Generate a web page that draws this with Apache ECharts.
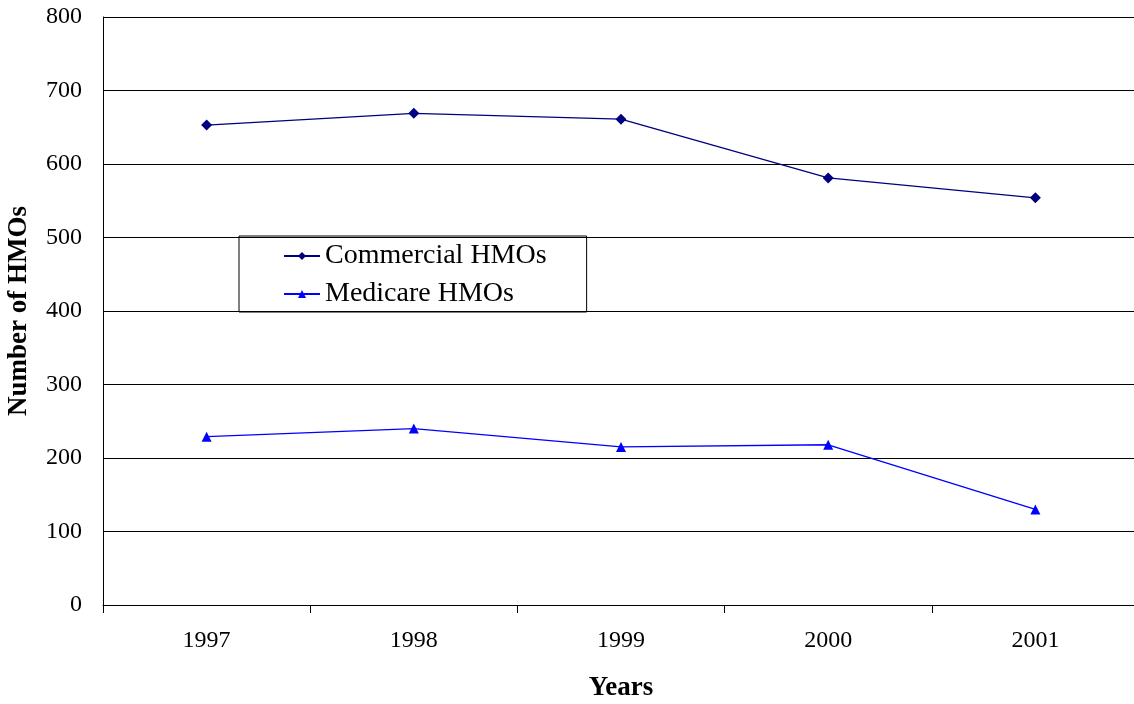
<!DOCTYPE html>
<html>
<head>
<meta charset="utf-8">
<script src="https://cdn.jsdelivr.net/npm/echarts@6/dist/echarts.min.js"></script>
<style>
  html, body { margin: 0; padding: 0; background: #fff; }
  #main { width: 1134px; height: 704px; }
</style>
</head>
<body>
<div id="main"></div>
<script>
var years = ['1997', '1998', '1999', '2000', '2001'];
var commercial = [653, 669, 661, 581, 554];
var medicare = [229, 240, 215, 218, 130];
var yTicks = [0, 800, 100];

var chart = echarts.init(document.getElementById('main'));
var font = '"Liberation Serif", "Times New Roman", serif';

var option = {
    backgroundColor: '#fff',
    animation: false,
    grid: { left: 103, top: 17, width: 1036, height: 588, outerBoundsMode: 'none', containLabel: false },
    legend: {
        left: 239, top: 236, width: 352,
        orient: 'vertical',
        itemGap: 10,
        padding: [6, 40, 4, 44],
        borderColor: '#000', borderWidth: 1,
        itemWidth: 36, itemHeight: 10,
        textStyle: { fontFamily: font, fontSize: 28, color: '#000' },
        data: ['Commercial HMOs', 'Medicare HMOs']
    },
    xAxis: {
        type: 'category',
        data: years,
        boundaryGap: true,
        name: 'Years',
        nameLocation: 'middle',
        nameGap: 70,
        nameTextStyle: { fontFamily: font, fontSize: 27, fontWeight: 'bold', color: '#000' },
        axisLine: { lineStyle: { color: '#000', width: 1 } },
        axisTick: { show: true, length: 8, lineStyle: { color: '#000' } },
        axisLabel: { fontFamily: font, fontSize: 24, color: '#000', margin: 24 }
    },
    yAxis: {
        type: 'value',
        min: yTicks[0], max: yTicks[1], interval: yTicks[2],
        name: 'Number of HMOs',
        nameLocation: 'middle',
        nameGap: 70,
        nameTextStyle: { fontFamily: font, fontSize: 27, fontWeight: 'bold', color: '#000' },
        axisLine: { show: true, lineStyle: { color: '#000', width: 1 } },
        axisTick: { show: false },
        axisLabel: { fontFamily: font, fontSize: 24, color: '#000', margin: 21 },
        splitLine: { lineStyle: { color: '#000', width: 1 } }
    },
    series: [{
        name: 'Commercial HMOs',
        type: 'line',
        data: commercial,
        symbol: 'diamond',
        symbolSize: 11,
        color: '#000080',
        lineStyle: { width: 1.3, color: '#000080' }
    }, {
        name: 'Medicare HMOs',
        type: 'line',
        data: medicare,
        symbol: 'triangle',
        symbolSize: 10,
        color: '#0000FF',
        lineStyle: { width: 1.3, color: '#0000FF' }
    }]
};

chart.setOption(option);
</script>
</body>
</html>
